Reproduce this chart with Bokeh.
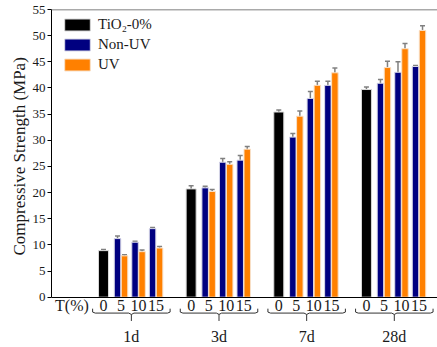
from bokeh.plotting import figure
from bokeh.models import (ColumnDataSource, FixedTicker, LinearAxis, Range1d, Span,
                          Whisker, TeeHead, Legend, LegendItem, Title)
from bokeh.embed import file_html
from bokeh.resources import INLINE

# ---------------- data ----------------
groups = ["1d", "3d", "7d", "28d"]
t_levels = ["0", "5", "10", "15"]
t_title = "T(%)"
series_names = ["TiO\u2082-0%", "Non-UV", "UV"]
y_label = "Compressive Strength (MPa)"

control = [8.9, 20.7, 35.4, 39.7]
control_err = [0.2, 0.6, 0.4, 0.5]

nonuv = [11.2, 10.5, 13.1, 20.9, 25.8, 26.2, 30.6, 38.0, 40.5, 40.9, 43.0, 44.1]
nonuv_err = [0.5, 0.2, 0.2, 0.3, 0.7, 0.9, 0.7, 1.3, 0.8, 0.7, 2.0, 0.2]

uv = [7.9, 8.7, 9.4, 20.2, 25.4, 28.3, 34.6, 40.5, 42.9, 43.9, 47.5, 51.0]
uv_err = [0.2, 0.3, 0.3, 0.4, 0.5, 0.5, 1.0, 0.8, 0.9, 1.2, 1.0, 0.9]

y_ticks = list(range(0, 56, 5))

# ---------------- layout helpers ----------------
STEP = 5          # slots per group (4 slots + gap)
OFF = 0.2         # pair offset
FONT = "Liberation Serif"
TXT = "#1a1a1a"

x_ctrl = [g * STEP for g in range(len(groups))]
x_pair = [g * STEP + k for g in range(len(groups)) for k in (1, 2, 3)]
x_non = [x - OFF for x in x_pair]
x_uv = [x + OFF for x in x_pair]

p = figure(width=437, height=347,
           x_range=Range1d(-2.966, 19.054), y_range=Range1d(-4.65, 55),
           output_backend="svg", toolbar_location=None,
           x_axis_type=None, y_axis_type=None,
           min_border_left=51, min_border_right=0, min_border_top=9,
           min_border_bottom=25)
p.grid.visible = False
p.outline_line_color = None
p.background_fill_color = "white"

src_c = ColumnDataSource(dict(x=x_ctrl, y=control,
                              lo=[v - e for v, e in zip(control, control_err)],
                              hi=[v + e for v, e in zip(control, control_err)]))
src_n = ColumnDataSource(dict(x=x_non, y=nonuv,
                              lo=[v - e for v, e in zip(nonuv, nonuv_err)],
                              hi=[v + e for v, e in zip(nonuv, nonuv_err)]))
src_u = ColumnDataSource(dict(x=x_uv, y=uv,
                              lo=[v - e for v, e in zip(uv, uv_err)],
                              hi=[v + e for v, e in zip(uv, uv_err)]))

r0 = p.vbar(x="x", top="y", bottom=0, width=0.57, source=src_c,
            fill_color="#000000", line_color="#d8d8d8", line_width=1)
r1 = p.vbar(x="x", top="y", bottom=0, width=0.37, source=src_n,
            fill_color="#000080", line_color="#d8d8e8", line_width=1)
r2 = p.vbar(x="x", top="y", bottom=0, width=0.37, source=src_u,
            fill_color="#ff8000", line_color="#f8e0c8", line_width=1)

for s in (src_c, src_n, src_u):
    w = Whisker(base="x", lower="lo", upper="hi", source=s,
                line_color="#808080", line_width=1.5,
                upper_head=TeeHead(size=5, line_color="#808080", line_width=1.5),
                lower_head=TeeHead(size=5, line_color="#808080", line_width=1.5))
    p.add_layout(w)

# top frame line
p.add_layout(Span(location=55, dimension="width", line_color="#555555", line_width=1.5))

# y axis
yax = LinearAxis(bounds=(0, 55), ticker=FixedTicker(ticks=y_ticks),
                 major_label_text_font=FONT, major_label_text_font_size="13px",
                 major_label_text_color=TXT, major_label_standoff=2,
                 major_tick_out=4, major_tick_in=0, minor_tick_out=0, minor_tick_in=0,
                 axis_line_color="black", major_tick_line_color="black")
p.add_layout(yax, "left")

# y axis title (positioned over the 0..55 span, like the reference)
ytitle = Title(text=y_label, align="left", offset=66, standoff=2,
               text_font=FONT, text_font_size="17px", text_font_style="normal",
               text_color=TXT)
p.add_layout(ytitle, "left")

# x axis with T(%) levels at y = 0
t_pos = -1.8
ticks = [t_pos]
overrides = {t_pos: t_title}
for g in range(len(groups)):
    for k, lab in enumerate(t_levels):
        ticks.append(g * STEP + k)
        overrides[g * STEP + k] = lab
xax = LinearAxis(fixed_location=0, ticker=FixedTicker(ticks=ticks),
                 major_label_overrides=overrides,
                 major_label_text_font=FONT, major_label_text_font_size="16px",
                 major_label_text_color=TXT, major_label_standoff=0,
                 major_tick_out=0, major_tick_in=0, minor_tick_out=0, minor_tick_in=0,
                 axis_line_color="black", axis_line_width=1.2)
p.add_layout(xax, "below")

# group axis
g_centres = [g * STEP + 1.59 for g in range(len(groups))]
gax = LinearAxis(ticker=FixedTicker(ticks=g_centres),
                 major_label_overrides={c: lab for c, lab in zip(g_centres, groups)},
                 major_label_text_font=FONT, major_label_text_font_size="16px",
                 major_label_text_color=TXT, major_label_standoff=0,
                 major_tick_line_color=None, minor_tick_line_color=None,
                 axis_line_color=None)
p.add_layout(gax, "below")

# braces under each group
bx, by = [], []
for g in range(len(groups)):
    L = g * STEP - 0.62
    R = g * STEP + 3.8
    C = g * STEP + 1.59
    bx.append([L, L, L + 0.15, C - 0.15, C, C + 0.15, R - 0.15, R, R])
    by.append([-2.2, -2.85, -3.04, -3.04, -3.3, -3.04, -3.04, -2.85, -2.2])
    bx.append([C, C])
    by.append([-3.3, -4.55])
p.multi_line(bx, by, line_color="#333333", line_width=1)

legend = Legend(items=[LegendItem(label=series_names[0], renderers=[r0]),
                       LegendItem(label=series_names[1], renderers=[r1]),
                       LegendItem(label=series_names[2], renderers=[r2])],
                location=(10, 248), margin=0, padding=0,
                border_line_color=None, background_fill_alpha=0,
                glyph_width=32, glyph_height=15, label_standoff=5, spacing=3,
                label_text_font=FONT, label_text_font_size="15px",
                label_text_color=TXT)
p.add_layout(legend)

open("out.html", "w").write(file_html(p, INLINE))
